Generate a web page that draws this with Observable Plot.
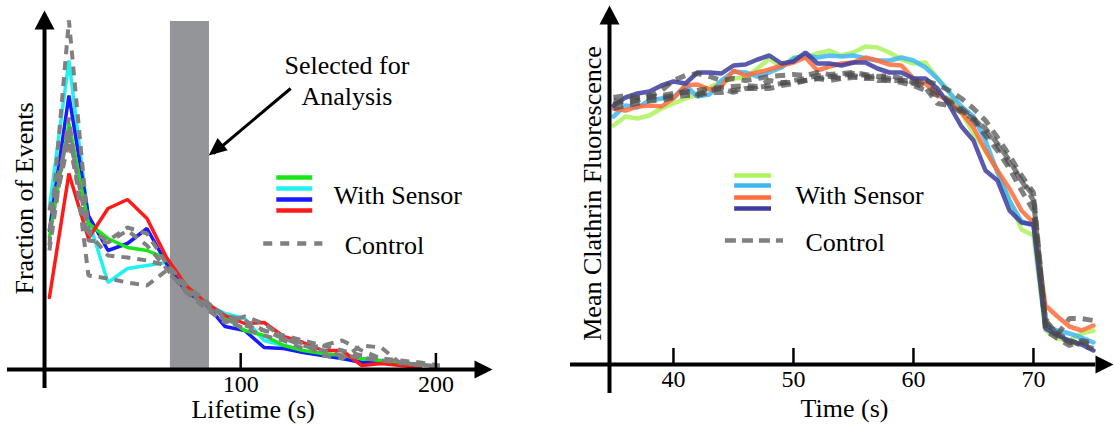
<!DOCTYPE html>
<html><head><meta charset="utf-8">
<script src="https://cdn.jsdelivr.net/npm/d3@7"></script>
<script src="https://cdn.jsdelivr.net/npm/@observablehq/plot@0.6"></script>
<style>
html,body{margin:0;padding:0;background:#fff;}
#wrap{display:flex;width:1114px;height:430px;overflow:hidden;}
#wrap svg{display:block;flex:none;}
</style></head><body><div id="wrap"></div>
<script>
const FONT = "Liberation Serif";

// ---------- Left panel: lifetime distribution ----------
const lifetimeBins = [2, 12, 22, 32, 42, 52, 62, 72, 82, 92, 102, 112, 122, 132, 142, 152, 162, 172, 182, 192, 202];
const lifetimeTicks = [100, 200];
const sensorGreenL = [0.132, 0.246, 0.146, 0.131, 0.122, 0.119, 0.111, 0.084, 0.067, 0.052, 0.039, 0.034, 0.024, 0.019, 0.016, 0.014, 0.011, 0.009, 0.007, 0.005];
const sensorCyanL  = [0.162, 0.309, 0.150, 0.087, 0.101, 0.104, 0.107, 0.081, 0.066, 0.056, 0.051, 0.029, 0.024, 0.019, 0.014, 0.011, 0.009, 0.007, 0.006, 0.004];
const sensorBlueL  = [0.139, 0.274, 0.154, 0.119, 0.126, 0.141, 0.106, 0.078, 0.066, 0.043, 0.039, 0.022, 0.021, 0.017, 0.014, 0.011, 0.007, 0.007, 0.006, 0.004];
const sensorRedL   = [0.072, 0.196, 0.131, 0.161, 0.170, 0.151, 0.112, 0.084, 0.067, 0.054, 0.046, 0.047, 0.033, 0.027, 0.019, 0.019, 0.004, 0.006, 0.004, 0.002];
const control1L = [0.124, 0.349, 0.139, 0.129, 0.142, 0.136, 0.106, 0.084, 0.069, 0.051, 0.044, 0.039, 0.034, 0.029, 0.024, 0.019, 0.014, 0.011, 0.007, 0.005, 0.003];
const control2L = [0.119, 0.252, 0.094, 0.091, 0.087, 0.084, 0.099, 0.079, 0.064, 0.049, 0.041, 0.034, 0.029, 0.021, 0.024, 0.029, 0.019, 0.011, 0.009, 0.007, 0.004];
const control3L = [0.159, 0.236, 0.137, 0.114, 0.112, 0.109, 0.104, 0.081, 0.066, 0.054, 0.049, 0.039, 0.031, 0.024, 0.019, 0.014, 0.012, 0.009, 0.007, 0.004, 0.003];
const control4L = [0.139, 0.229, 0.129, 0.127, 0.139, 0.124, 0.101, 0.077, 0.061, 0.047, 0.053, 0.046, 0.031, 0.026, 0.014, 0.011, 0.024, 0.022, 0.006, 0.005, 0.003];
const selectedWindow = {start: 64, end: 84, top: 0.348};
const annotationText = "Selected for\nAnalysis";

// ---------- Right panel: mean clathrin fluorescence ----------
const times = [35, 36, 37, 38, 39, 40, 41, 42, 43, 44, 45, 46, 47, 48, 49, 50, 51, 52, 53, 54, 55, 56, 57, 58, 59, 60, 61, 62, 63, 64, 65, 66, 67, 68, 69, 70, 71, 72, 73, 74, 75];
const timeTicks = [40, 50, 60, 70];
const sensorGreenR  = [239,248,246,249,256,261,266,270,277,283,286,287,296,306,297,307,307,311,314,309,312,318,317,312,305,301,302,286,272,252,231,214,194,164,135,129,34,26,24,31,34];
const sensorBlueR   = [248,259,257,264,266,267,279,268,270,284,293,292,288,292,297,306,309,307,309,308,309,306,304,304,307,304,297,286,272,258,248,224,192,164,143,139,39,34,31,27,22];
const sensorOrangeR = [256,254,258,259,258,266,279,280,275,278,294,289,292,295,299,302,307,294,298,301,302,307,304,300,299,286,281,270,263,252,237,214,194,176,154,142,59,48,38,34,39];
const sensorIndigoR = [259,267,271,273,279,283,281,292,292,291,299,300,305,309,301,303,312,301,301,299,302,302,296,292,292,286,286,276,259,238,224,194,184,154,142,140,36,29,24,20,14];
const control1R = [267,269,267,268,274,284,289,291,288,284,286,284,286,288,289,290,289,292,290,291,292,290,288,289,286,282,284,280,274,266,256,244,227,209,189,172,42,30,46,46,44];
const control2R = [260,264,266,267,269,271,272,274,276,277,278,279,278,284,282,282,284,286,288,286,287,287,289,286,284,284,279,272,264,254,244,229,214,196,174,154,44,31,24,19,16];
const control3R = [264,262,264,269,267,269,274,270,274,276,272,276,277,279,281,284,286,289,288,289,291,289,284,284,284,281,277,261,259,252,246,236,221,204,184,164,46,29,22,22,19];
const control4R = [256,259,261,264,264,267,269,269,272,272,274,276,276,276,279,281,284,286,284,286,289,286,286,284,282,279,274,269,262,256,246,234,219,201,184,169,34,26,19,24,21];

const legendLabels = ["With Sensor", "Control"];
const leftColors  = ["#17e617", "#1ff2f2", "#1a1aff", "#ff1a1a"];
const rightColors = ["#aef25c", "#3fb6f2", "#ff6b3b", "#3c3ca0"];

// ---------- helpers ----------
const rows = (xs, ys, name) => ys.map((y, i) => ({x: xs[i], y, series: name}));
const arrowUp = {draw(c) { c.moveTo(0, 0); c.lineTo(-10, 19); c.lineTo(10, 19); c.closePath(); }};
const arrowRight = {draw(c) { c.moveTo(0, 0); c.lineTo(-18, -9); c.lineTo(-18, 9); c.closePath(); }};
const arrowDownLeft = {draw(c) { c.moveTo(0, 0); c.lineTo(8.9, -17.6); c.lineTo(19.0, -5.2); c.closePath(); }};
const txt = {fontFamily: FONT, fontSize: 26, fill: "black"};
const tickTxt = {fontFamily: FONT, fontSize: 24, fill: "black"};

// ---------- left plot ----------
const leftSensors = [sensorCyanL, sensorBlueL, sensorGreenL, sensorRedL];
const leftSensorColors = [leftColors[1], leftColors[2], leftColors[0], leftColors[3]];
const leftControls = [control1L, control2L, control3L, control4L];

const leftPlot = Plot.plot({
  width: 557, height: 430,
  marginLeft: 45, marginRight: 65, marginTop: 10, marginBottom: 61,
  style: {fontFamily: FONT, fontSize: "26px", background: "white", overflow: "visible"},
  x: {domain: [0, 229], axis: null},
  y: {domain: [0, 0.359], axis: null},
  marks: [
    Plot.rect([selectedWindow], {x1: "start", x2: "end", y1: 0, y2: "top", fill: "#939598"}),
    ...leftSensors.map((s, i) => Plot.line(rows(lifetimeBins, s, "s" + i), {x: "x", y: "y", stroke: leftSensorColors[i], strokeWidth: 3.5, strokeLinejoin: "miter"})),
    ...leftControls.map((s, i) => Plot.line(rows(lifetimeBins, s, "c" + i), {x: "x", y: "y", stroke: "#808080", strokeWidth: 4, strokeDasharray: "9,7", strokeLinecap: "butt", strokeLinejoin: "miter"})),
    // axes
    Plot.ruleY([0], {x1: -19.5, x2: 222, strokeWidth: 4, stroke: "black"}),
    Plot.ruleX([-0.5], {y1: -0.019, y2: 0.345, strokeWidth: 4, stroke: "black"}),
    Plot.dot([{x: -0.5, y: 0.359}], {x: "x", y: "y", symbol: arrowUp, fill: "black", stroke: "none"}),
    Plot.dot([{x: 229, y: 0}], {x: "x", y: "y", symbol: arrowRight, fill: "black", stroke: "none"}),
    Plot.ruleX(lifetimeTicks, {y1: 0, y2: 0.016, strokeWidth: 2.5, stroke: "black"}),
    Plot.text(lifetimeTicks, {x: d => d, y: 0, dy: 5, text: d => String(d), lineAnchor: "top", ...tickTxt}),
    Plot.text(["Lifetime (s)"], {x: 106.4, y: -0.040, text: d => d, lineAnchor: "middle", ...txt}),
    Plot.text(["Fraction of Events"], {x: -10.8, y: 0.171, text: d => d, rotate: -90, lineAnchor: "middle", ...txt}),
    // annotation
    Plot.text([annotationText], {x: 154.4, y: 0.2895, text: d => d, lineAnchor: "middle", lineHeight: 1.19, ...txt}),
    Plot.link([{x1: 125.6, y1: 0.281, x2: 86, y2: 0.216}], {x1: "x1", y1: "y1", x2: "x2", y2: "y2", stroke: "black", strokeWidth: 3}),
    Plot.dot([{x: 83.6, y: 0.214}], {x: "x", y: "y", symbol: arrowDownLeft, fill: "black", stroke: "none"}),
    // legend
    Plot.ruleY([0.192, 0.181, 0.170, 0.159], {x1: 118.5, x2: 136.9, stroke: (d, i) => leftColors[i], strokeWidth: 4.5}),
    Plot.ruleY([0.126], {x1: 111.8, x2: 142.1, stroke: "#808080", strokeWidth: 4.5, strokeDasharray: "9,8"}),
    Plot.text([legendLabels[0]], {x: 147.7, y: 0.174, text: d => d, textAnchor: "start", lineAnchor: "middle", ...txt}),
    Plot.text([legendLabels[1]], {x: 153.3, y: 0.124, text: d => d, textAnchor: "start", lineAnchor: "middle", ...txt})
  ]
});

// ---------- right plot ----------
const rightSensors = [sensorGreenR, sensorBlueR, sensorOrangeR, sensorIndigoR];
const rightControls = [control1R, control2R, control3R, control4R];

const rightPlot = Plot.plot({
  width: 557, height: 430,
  marginLeft: 52, marginRight: 1, marginTop: 5, marginBottom: 66,
  style: {fontFamily: FONT, fontSize: "26px", background: "white", overflow: "visible"},
  x: {domain: [34.67, 76.67], axis: null},
  y: {domain: [0, 359], axis: null},
  marks: [
    ...rightSensors.map((s, i) => Plot.line(rows(times, s, "s" + i), {x: "x", y: "y", stroke: rightColors[i], strokeWidth: 4.5, strokeOpacity: 0.85, strokeLinejoin: "miter"})),
    ...rightControls.map((s, i) => Plot.line(rows(times, s, "c" + i), {x: "x", y: "y", stroke: "#4a4a4a", strokeOpacity: 0.7, strokeWidth: 5, strokeDasharray: "10,7", strokeLinecap: "butt", strokeLinejoin: "miter"})),
    // axes
    Plot.ruleY([0], {x1: 31.42, x2: 75.2, strokeWidth: 4, stroke: "black"}),
    Plot.ruleX([34.67], {y1: -29, y2: 345, strokeWidth: 4, stroke: "black"}),
    Plot.dot([{x: 34.67, y: 359}], {x: "x", y: "y", symbol: arrowUp, fill: "black", stroke: "none"}),
    Plot.dot([{x: 76.67, y: 0}], {x: "x", y: "y", symbol: arrowRight, fill: "black", stroke: "none"}),
    Plot.ruleX(timeTicks, {y1: 0, y2: 16, strokeWidth: 2.5, stroke: "black"}),
    Plot.text(timeTicks, {x: d => d, y: 0, dy: 5, text: d => String(d), lineAnchor: "top", ...tickTxt}),
    Plot.text(["Time (s)"], {x: 54.25, y: -44, text: d => d, lineAnchor: "middle", ...txt}),
    Plot.text(["Mean Clathrin Fluorescence"], {x: 33.25, y: 171, text: d => d, rotate: -90, lineAnchor: "middle", ...txt}),
    // legend
    Plot.ruleY([189, 179, 167, 156], {x1: 45.1, x2: 48.17, stroke: (d, i) => rightColors[i], strokeWidth: 4.5}),
    Plot.ruleY([124], {x1: 44.33, x2: 49.17, stroke: "#808080", strokeWidth: 4.5, strokeDasharray: "11,6"}),
    Plot.text([legendLabels[0]], {x: 50.17, y: 169, text: d => d, textAnchor: "start", lineAnchor: "middle", ...txt}),
    Plot.text([legendLabels[1]], {x: 51.0, y: 122, text: d => d, textAnchor: "start", lineAnchor: "middle", ...txt})
  ]
});

const wrap = document.getElementById("wrap");
wrap.appendChild(leftPlot);
wrap.appendChild(rightPlot);
</script>
</body></html>
